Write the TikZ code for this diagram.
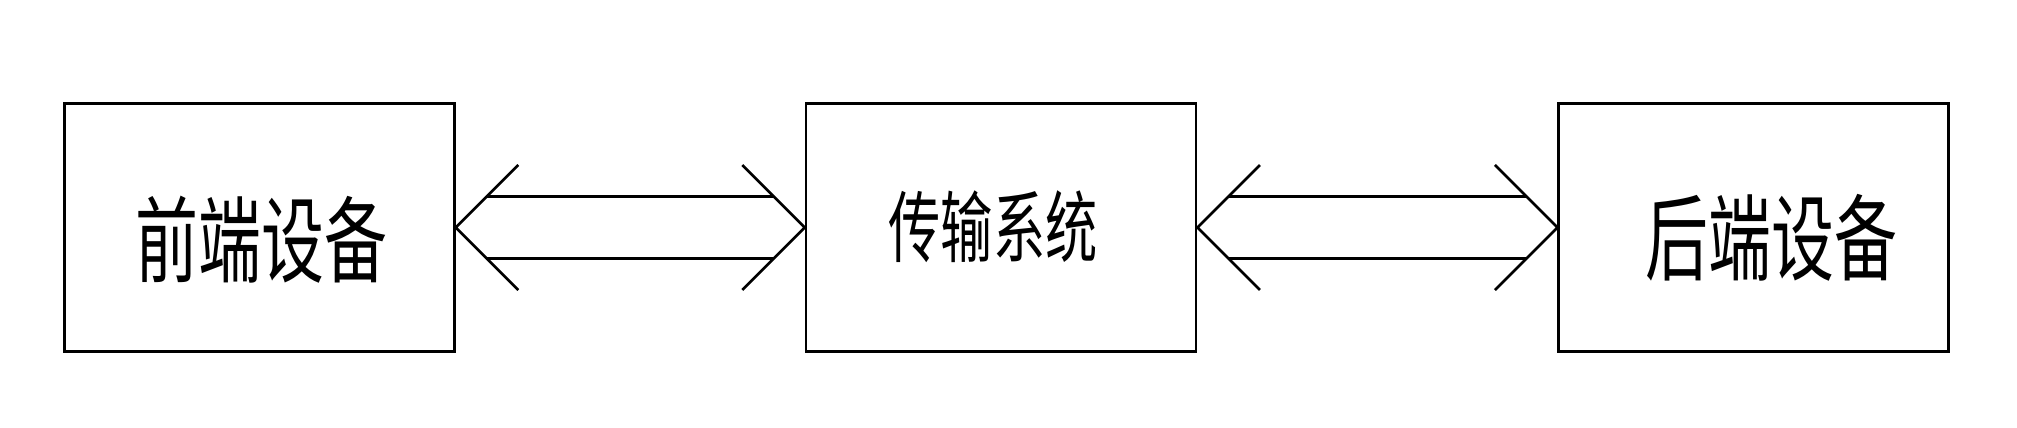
\documentclass[tikz,border=0pt]{standalone}
\usepackage{fontspec}
\newfontfamily\cjk[FakeStretch=0.67]{Noto Sans CJK SC}
\usetikzlibrary{positioning}

\tikzset{
	dbl arrow/.style={to path={
		([shift={(31.25pt,31.25pt)}]\tikztostart.east) -- (\tikztostart.east) -- ++(31.25pt,-31.25pt)
		([shift={(-31.25pt,31.25pt)}]\tikztotarget.west) -- (\tikztotarget.west) -- ++(-31.25pt,-31.25pt)
		([shift={(15.5pt,15.5pt)}]\tikztostart.east) -- ([shift={(-15.5pt,15.5pt)}]\tikztotarget.west)
		([shift={(15.5pt,-15.5pt)}]\tikztostart.east) -- ([shift={(-15.5pt,-15.5pt)}]\tikztotarget.west)}}
}

\begin{document}
\begin{tikzpicture}[line width=1.3pt,node distance=174.5pt,
	main node/.style={draw,minimum width=195pt,minimum height=124.25pt,inner sep=0pt},
	big text/.style={font=\cjk\fontsize{47}{47}\selectfont,inner sep=0pt},
	small text/.style={font=\cjk\fontsize{39}{39}\selectfont,inner sep=0pt}]
\useasboundingbox (-129.75pt,-100.25pt) rectangle (878.75pt,113.75pt);
\node[main node] (1) {};
\node[main node] (2) [right=of 1] {};
\node[main node] (3) [right=180pt of 2] {};
\node[big text] (t1) at ([xshift=1pt,yshift=-6pt]1) {前端设备};
\node[small text] (t2) at ([xshift=-4pt,yshift=0.5pt]2) {传输系统};
\node[big text] (t3) at ([xshift=9pt,yshift=-5pt]3) {后端设备};
\path[draw,miter limit=10]
	(1) edge [dbl arrow] (2)
	(2) edge [dbl arrow] (3);
\end{tikzpicture}
\end{document}
